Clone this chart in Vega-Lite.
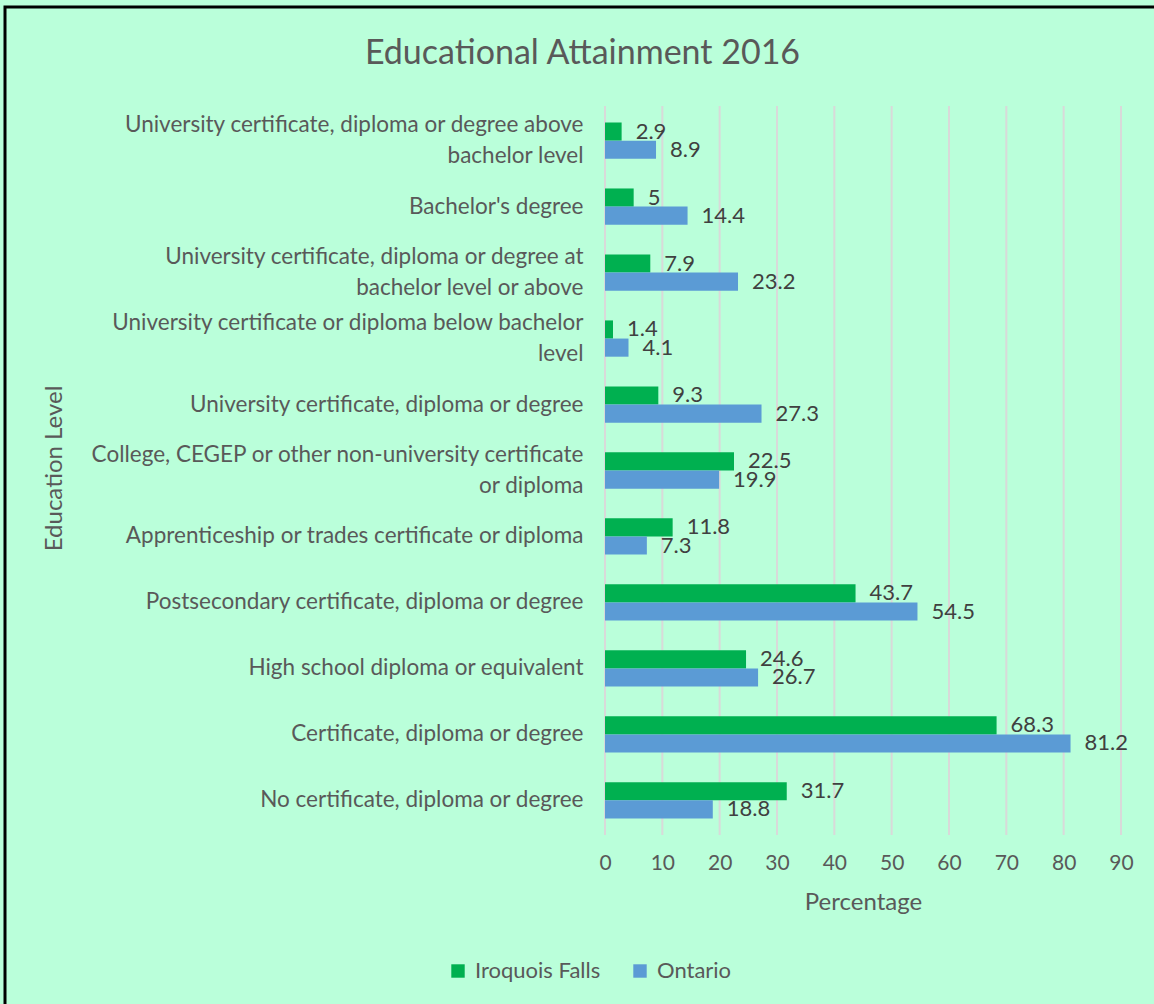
{
  "$schema": "https://vega.github.io/schema/vega-lite/v6.json",
  "autosize": "none",
  "width": 1149,
  "height": 997,
  "padding": {"left": 5, "top": 7, "right": 0, "bottom": 0},
  "background": "#BAFFDA",
  "title": {
    "text": "Educational Attainment 2016",
    "anchor": "middle",
    "frame": "group",
    "offset": -64,
    "dx": 3,
    "fontSize": 34,
    "font": "Lato",
    "fontWeight": "normal",
    "color": "#595959"
  },
  "datasets": {
    "gridticks": [
      {"tick": 0}, {"tick": 10}, {"tick": 20}, {"tick": 30}, {"tick": 40},
      {"tick": 50}, {"tick": 60}, {"tick": 70}, {"tick": 80}, {"tick": 90}
    ],
    "attainment": [
      {"level": "University certificate, diploma or degree above|bachelor level", "series": "Iroquois Falls", "value": 2.9},
      {"level": "University certificate, diploma or degree above|bachelor level", "series": "Ontario", "value": 8.9},
      {"level": "Bachelor's degree", "series": "Iroquois Falls", "value": 5},
      {"level": "Bachelor's degree", "series": "Ontario", "value": 14.4},
      {"level": "University certificate, diploma or degree at|bachelor level or above", "series": "Iroquois Falls", "value": 7.9},
      {"level": "University certificate, diploma or degree at|bachelor level or above", "series": "Ontario", "value": 23.2},
      {"level": "University certificate or diploma below bachelor|level", "series": "Iroquois Falls", "value": 1.4},
      {"level": "University certificate or diploma below bachelor|level", "series": "Ontario", "value": 4.1},
      {"level": "University certificate, diploma or degree", "series": "Iroquois Falls", "value": 9.3},
      {"level": "University certificate, diploma or degree", "series": "Ontario", "value": 27.3},
      {"level": "College, CEGEP or other non-university certificate|or diploma", "series": "Iroquois Falls", "value": 22.5},
      {"level": "College, CEGEP or other non-university certificate|or diploma", "series": "Ontario", "value": 19.9},
      {"level": "Apprenticeship or trades certificate or diploma", "series": "Iroquois Falls", "value": 11.8},
      {"level": "Apprenticeship or trades certificate or diploma", "series": "Ontario", "value": 7.3},
      {"level": "Postsecondary certificate, diploma or degree", "series": "Iroquois Falls", "value": 43.7},
      {"level": "Postsecondary certificate, diploma or degree", "series": "Ontario", "value": 54.5},
      {"level": "High school diploma or equivalent", "series": "Iroquois Falls", "value": 24.6},
      {"level": "High school diploma or equivalent", "series": "Ontario", "value": 26.7},
      {"level": "Certificate, diploma or degree", "series": "Iroquois Falls", "value": 68.3},
      {"level": "Certificate, diploma or degree", "series": "Ontario", "value": 81.2},
      {"level": "No certificate, diploma or degree", "series": "Iroquois Falls", "value": 31.7},
      {"level": "No certificate, diploma or degree", "series": "Ontario", "value": 18.8}
    ]
  },
  "layer": [
    {
      "data": {"name": "gridticks"},
      "mark": {"type": "rule", "color": "#D9D9D9", "strokeWidth": 2},
      "encoding": {
        "x": {
          "field": "tick",
          "type": "quantitative",
          "scale": {"domain": [0, 90], "range": [600, 1116], "nice": false},
          "axis": {
            "title": "Percentage",
            "offset": -169,
            "values": [0, 10, 20, 30, 40, 50, 60, 70, 80, 90],
            "domain": false,
            "ticks": false,
            "grid": false,
            "labelFlush": false,
            "labelPadding": 17,
            "labelFontSize": 21,
            "labelFont": "Lato",
            "labelColor": "#595959",
            "titleFont": "Lato",
            "titleFontSize": 24,
            "titleFontWeight": "normal",
            "titleColor": "#595959",
            "titleX": 858,
            "titleY": 67,
            "titleAlign": "center",
            "titleBaseline": "middle"
          }
        },
        "y": {"datum": 0, "type": "quantitative", "scale": {"domain": [0, 1], "range": [828, 99], "nice": false, "zero": false}, "axis": null},
        "y2": {"datum": 1}
      }
    },
    {
      "data": {"name": "attainment"},
      "encoding": {
        "y": {
          "field": "level",
          "type": "nominal",
          "sort": null,
          "scale": {"range": [99, 828], "paddingInner": 0.45, "paddingOuter": 0.25},
          "axis": {
            "title": "Education Level",
            "offset": -600,
            "domain": false,
            "ticks": false,
            "grid": false,
            "labelPadding": 22,
            "labelExpr": "split(datum.value, '|')",
            "labelLineHeight": 31,
            "labelOffset": {"condition": {"test": "indexof(datum.value, '|') >= 0", "value": -15.5}, "value": 0},
            "labelLimit": 600,
            "labelFontSize": 22.5,
            "labelFont": "Lato",
            "labelColor": "#595959",
            "titleFont": "Lato",
            "titleFontSize": 24,
            "titleFontWeight": "normal",
            "titleColor": "#595959",
            "titleX": -551,
            "titleY": 461,
            "titleAngle": -90,
            "titleAlign": "center",
            "titleBaseline": "middle"
          }
        },
        "yOffset": {"field": "series", "type": "nominal", "sort": ["Iroquois Falls", "Ontario"]},
        "x": {
          "field": "value",
          "type": "quantitative",
          "scale": {"domain": [0, 90], "range": [600, 1116], "nice": false},
          "axis": {
            "title": "Percentage",
            "offset": -169,
            "values": [0, 10, 20, 30, 40, 50, 60, 70, 80, 90],
            "domain": false,
            "ticks": false,
            "grid": false,
            "labelFlush": false,
            "labelPadding": 17,
            "labelFontSize": 21,
            "labelFont": "Lato",
            "labelColor": "#595959",
            "titleFont": "Lato",
            "titleFontSize": 24,
            "titleFontWeight": "normal",
            "titleColor": "#595959",
            "titleX": 858,
            "titleY": 67,
            "titleAlign": "center",
            "titleBaseline": "middle"
          }
        }
      },
      "layer": [
        {
          "mark": {"type": "bar"},
          "encoding": {
            "color": {
              "field": "series",
              "type": "nominal",
              "sort": ["Iroquois Falls", "Ontario"],
              "scale": {"domain": ["Iroquois Falls", "Ontario"], "range": ["#00B050", "#5B9BD5"]},
              "legend": {
                "title": null,
                "orient": "none",
                "direction": "horizontal",
                "legendX": 442,
                "legendY": 953,
                "symbolType": "square",
                "symbolSize": 180,
                "symbolStrokeWidth": 0,
                "labelFont": "Lato",
                "labelFontSize": 22,
                "labelColor": "#595959",
                "columnPadding": 28,
                "labelOffset": 6
              }
            }
          }
        },
        {
          "mark": {"type": "text", "align": "left", "baseline": "middle", "dx": 14, "font": "Lato", "fontSize": 22, "color": "#404040"},
          "encoding": {"text": {"field": "value", "type": "quantitative"}}
        }
      ]
    }
  ],
  "resolve": {"scale": {"y": "independent"}, "axis": {"y": "independent"}},
  "config": {
    "view": {"fill": "#BAFFDA", "stroke": "#000000", "strokeWidth": 3, "strokeDash": [1149, 2146, 997]}
  }
}
